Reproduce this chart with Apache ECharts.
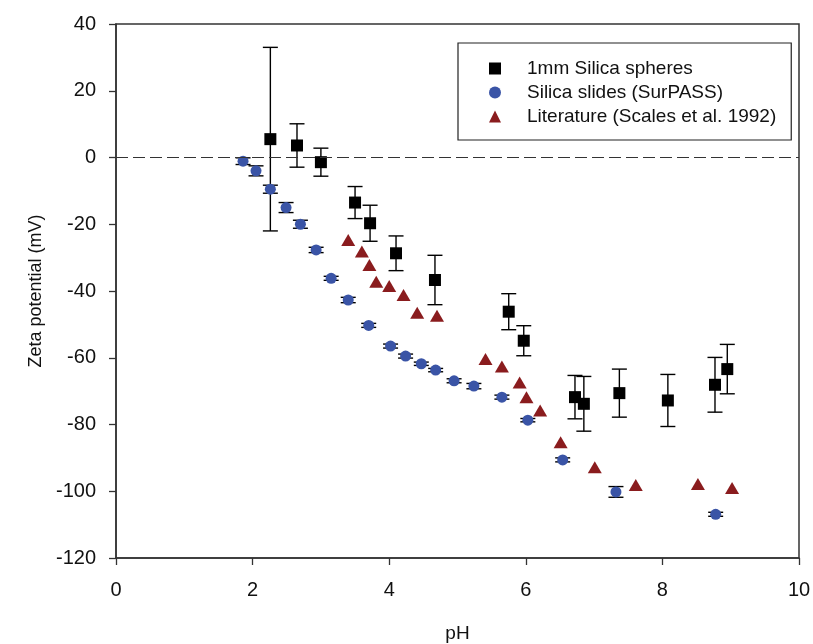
<!DOCTYPE html>
<html>
<head>
<meta charset="utf-8">
<script src="https://cdn.jsdelivr.net/npm/echarts@6/dist/echarts.min.js"></script>
<style>
  html, body { margin: 0; padding: 0; background: #fff; }
  #chart { width: 813px; height: 644px; }
</style>
</head>
<body>
<div id="chart"></div>
<script>
// 1 mm silica spheres: pH, zeta potential (mV), symmetric error (mV)
const spherePH  = [2.26, 2.65, 3.00, 3.50, 3.72, 4.10, 4.67, 5.75, 5.97, 6.72, 6.85, 7.37, 8.08, 8.77, 8.95];
const sphereZeta = [5.5, 3.6, -1.4, -13.5, -19.7, -28.7, -36.7, -46.2, -54.9, -71.8, -73.8, -70.6, -72.8, -68.1, -63.4];
const sphereErr  = [27.5, 6.5, 4.2, 4.8, 5.4, 5.2, 7.4, 5.4, 4.5, 6.5, 8.2, 7.2, 7.8, 8.2, 7.4];

// Silica slides measured with SurPASS
const slidePH   = [1.86, 2.05, 2.26, 2.49, 2.70, 2.93, 3.15, 3.40, 3.70, 4.02, 4.24, 4.47, 4.68, 4.95, 5.24, 5.65, 6.03, 6.54, 7.32, 8.78];
const slideZeta = [-1.1, -4.0, -9.5, -15.0, -20.0, -27.7, -36.2, -42.7, -50.3, -56.5, -59.5, -61.8, -63.7, -66.9, -68.5, -71.8, -78.7, -90.6, -100.2, -106.9];
const slideErr  = [1.0, 1.5, 1.2, 1.5, 1.2, 0.8, 0.6, 0.8, 0.6, 0.6, 0.6, 0.5, 0.5, 0.6, 0.8, 0.6, 0.5, 0.6, 1.6, 0.6];

// Literature values (Scales et al. 1992)
const litPH   = [3.40, 3.60, 3.71, 3.81, 4.00, 4.21, 4.41, 4.70, 5.41, 5.65, 5.91, 6.01, 6.21, 6.51, 7.01, 7.61, 8.52, 9.02];
const litZeta = [-24.7, -28.2, -32.2, -37.2, -38.5, -41.2, -46.5, -47.4, -60.4, -62.6, -67.4, -71.8, -75.8, -85.3, -92.8, -98.1, -97.8, -99.0];

// Axis ticks
const xTicks = [0, 2, 4, 6, 8, 10];
const yTicks = [-120, -100, -80, -60, -40, -20, 0, 20, 40];

const seriesNames = ['1mm Silica spheres', 'Silica slides (SurPASS)', 'Literature (Scales et al. 1992)'];

const zip = (xs, ys) => xs.map((x, i) => [x, ys[i]]);
const errRows = (xs, ys, es) => xs.map((x, i) => [x, ys[i] - es[i], ys[i] + es[i]]);

// Vertical error bar with horizontal caps at both ends
function errorBar(params, api) {
  const x = api.value(0);
  const lo = api.coord([x, api.value(1)]);
  const hi = api.coord([x, api.value(2)]);
  const half = 7.5;
  const style = { stroke: '#000', lineWidth: 1.4 };
  return {
    type: 'group',
    children: [
      { type: 'line', shape: { x1: lo[0], y1: lo[1], x2: hi[0], y2: hi[1] }, style },
      { type: 'line', shape: { x1: lo[0] - half, y1: lo[1], x2: lo[0] + half, y2: lo[1] }, style },
      { type: 'line', shape: { x1: hi[0] - half, y1: hi[1], x2: hi[0] + half, y2: hi[1] }, style }
    ]
  };
}

const axisLine = { show: true, onZero: false, lineStyle: { color: '#333', width: 1.5 } };
const tickStyle = { show: true, inside: false, length: 7, lineStyle: { color: '#333', width: 1.3 } };
const font = 'Liberation Sans, Arial, sans-serif';

const chart = echarts.init(document.getElementById('chart'), null, { renderer: 'canvas' });
chart.setOption({
  animation: false,
  backgroundColor: '#fff',
  textStyle: { fontFamily: font },
  grid: {
    left: 116, right: 14, top: 24, bottom: 86,
    containLabel: false,
    outerBoundsMode: 'none',
    show: true, borderColor: '#333', borderWidth: 1.5, backgroundColor: 'transparent'
  },
  xAxis: {
    type: 'value', min: xTicks[0], max: xTicks[xTicks.length - 1], interval: 2,
    name: 'pH', nameLocation: 'middle', nameGap: 66,
    nameTextStyle: { fontSize: 19, color: '#111', fontFamily: font },
    axisLine, axisTick: tickStyle,
    axisLabel: { fontSize: 20, color: '#111', margin: 22, fontFamily: font },
    splitLine: { show: false }
  },
  yAxis: {
    type: 'value', min: yTicks[0], max: yTicks[yTicks.length - 1], interval: 20,
    name: 'Zeta potential (mV)', nameLocation: 'middle', nameGap: 67,
    nameTextStyle: { fontSize: 18, color: '#111', fontFamily: font },
    axisLine, axisTick: tickStyle,
    axisLabel: { fontSize: 20, color: '#111', margin: 20, fontFamily: font },
    splitLine: { show: false }
  },
  legend: {
    orient: 'vertical',
    left: 458, top: 43,
    padding: [14, 15, 12, 31],
    itemGap: 1,
    itemWidth: 12, itemHeight: 12,
    borderColor: '#222', borderWidth: 1.2,
    backgroundColor: '#fff',
    data: seriesNames,
    textStyle: { fontSize: 19, color: '#111', fontFamily: font, padding: [0, 0, 0, 21], lineHeight: 23 }
  },
  series: [
    {
      type: 'custom', name: 'sphereErr', renderItem: errorBar, z: 1, silent: true,
      encode: { x: 0, y: [1, 2] },
      data: errRows(spherePH, sphereZeta, sphereErr)
    },
    {
      type: 'custom', name: 'slideErr', renderItem: errorBar, z: 1, silent: true,
      encode: { x: 0, y: [1, 2] },
      data: errRows(slidePH, slideZeta, slideErr)
    },
    {
      name: seriesNames[0], type: 'scatter', symbol: 'rect', symbolSize: 12, z: 3,
      itemStyle: { color: '#000', opacity: 1 },
      data: zip(spherePH, sphereZeta),
      markLine: {
        silent: true, symbol: 'none', label: { show: false },
        lineStyle: { color: '#333', width: 1.2, type: [12, 5] },
        data: [{ yAxis: 0 }]
      }
    },
    {
      name: seriesNames[1], type: 'scatter', symbol: 'circle', symbolSize: 11, z: 3,
      itemStyle: { color: '#3A54A6', opacity: 1 },
      data: zip(slidePH, slideZeta)
    },
    {
      name: seriesNames[2], type: 'scatter', symbol: 'triangle', symbolSize: [14, 12], z: 3,
      itemStyle: { color: '#8A1C1E', opacity: 1 },
      data: zip(litPH, litZeta)
    }
  ]
});
</script>
</body>
</html>
